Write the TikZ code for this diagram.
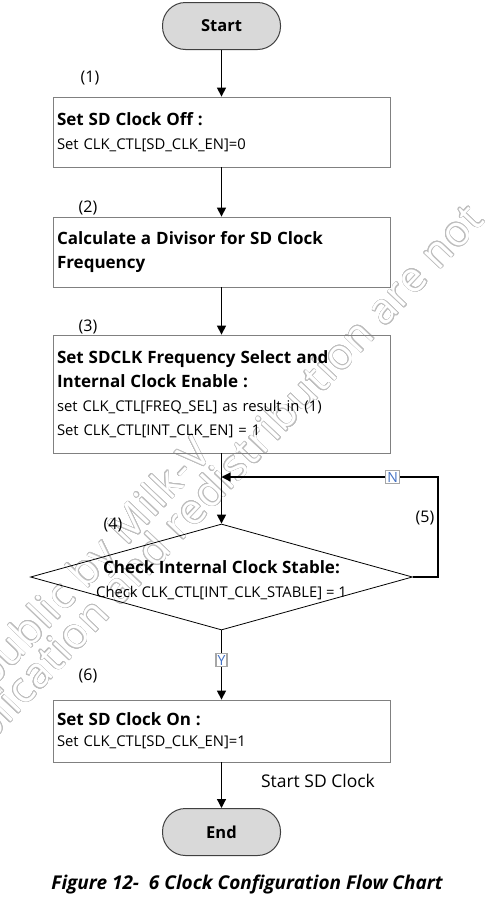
\documentclass[tikz,border=0pt]{standalone}
\usepackage{fontspec}
\setmainfont{Open Sans}
\newfontfamily\wmfont[LetterSpace=3]{Open Sans}
\usepackage[copies]{contour}
\contourlength{0.6pt}
\contournumber{24}
\usetikzlibrary{shapes.geometric,arrows.meta}
\definecolor{labblue}{HTML}{4472C4}
\definecolor{wmgray}{HTML}{BDBDBD}
\newcommand\hdtxt[1]{{\fontsize{17}{24}\selectfont\bfseries #1}}
\newcommand\wmtxt[1]{\contour{wmgray}{\textcolor{white}{#1}}}
\begin{document}
\begin{tikzpicture}[x=1pt,y=-1pt,
  arr/.style={-{Triangle[length=9pt,width=9pt]}, line width=1.2pt, draw=black},
  term/.style={draw=black!75, fill=black!15, line width=1pt, rounded corners=23pt,
    minimum width=118pt, minimum height=47pt, inner sep=0pt,
    font=\fontsize{16.5}{18}\selectfont\bfseries},
  procbox/.style={draw=black!50, line width=0.8pt, minimum width=337pt,
    text width=329pt, align=left, inner xsep=4pt, inner ysep=0pt,
    font=\fontsize{14.8}{24}\selectfont},
  num/.style={font=\fontsize{16}{18}\selectfont, inner sep=0pt},
  yn/.style={draw=black!35, fill=white, text=labblue, inner sep=1.5pt,
    font=\fontsize{14}{15}\selectfont},
  wm/.style={inner sep=0pt, rotate=46.5, font=\wmfont\fontsize{42}{42}\selectfont}
]
\useasboundingbox (0,0) rectangle (489,908);

% watermark (drawn first, behind the chart)
\begin{scope}
\clip (0,0) rectangle (489,908);
\node[wm, anchor=east] (wm1) at (206,448) {\wmtxt{public by Milk-V}};
\node[wm, anchor=east] (wm2) at (478,214) {\wmtxt{publication and redistribution are not}};
\end{scope}

\node[term] (start) at (221.5,26) {Start};
\node[num] (n1) at (90,78) {(1)};
\node[procbox, minimum height=70pt] (b1) at (221.5,132)
  {\hdtxt{Set SD Clock Off :}\\Set CLK\_CTL[SD\_CLK\_EN]=0};
\node[num] (n2) at (88,208) {(2)};
\node[procbox, minimum height=70pt] (b2) at (221.5,252)
  {\hdtxt{Calculate a Divisor for SD Clock}\\\hdtxt{Frequency}};
\node[num] (n3) at (88,327) {(3)};
\node[procbox, minimum height=118pt] (b3) at (221.5,394)
  {\hdtxt{Set SDCLK Frequency Select and}\\\hdtxt{Internal Clock Enable :}\\
   set CLK\_CTL[FREQ\_SEL] as result in (1)\\Set CLK\_CTL[INT\_CLK\_EN] = 1};
\node[num] (n4) at (113,525) {(4)};
\node[num] (n5) at (425,518) {(5)};
\node[diamond, draw=black, line width=0.8pt, minimum width=382pt,
  minimum height=106pt, inner sep=0pt, aspect=3.6] (chk) at (221.5,577) {};
\node[align=center, inner sep=0pt, font=\fontsize{14.8}{24}\selectfont] (chkt) at (221.5,580)
  {\hdtxt{Check Internal Clock Stable:}\\Check CLK\_CTL[INT\_CLK\_STABLE] = 1};
\node[num] (n6) at (88,676) {(6)};
\node[procbox, minimum height=62pt, font=\fontsize{14.8}{21}\selectfont] (b4) at (221.5,731)
  {\hdtxt{Set SD Clock On :}\\Set CLK\_CTL[SD\_CLK\_EN]=1};
\node[term] (end) at (221.5,832) {End};
\node[num, font=\fontsize{17.5}{20}\selectfont] (ssd) at (318,781) {Start SD Clock};
\node[inner sep=0pt, font=\fontsize{19}{22}\selectfont\bfseries\itshape] (cap) at (247,885)
  {Figure 12-\ \ 6 Clock Configuration Flow Chart};

\coordinate (j) at (221.5,477);
\coordinate (r) at (438,477);
\draw[arr] (start) -- (b1);
\draw[arr] (b1) -- (b2);
\draw[arr] (b2) -- (b3);
\draw[arr] (b3) -- (chk);
\draw[arr] (chk.east) -| (r) -- node[yn, pos=0.21] (nl) {N} (j);
\draw[arr] (chk) -- node[yn, pos=0.43] (yl) {Y} (b4);
\draw[arr] (b4) -- (end);
\end{tikzpicture}
\end{document}
